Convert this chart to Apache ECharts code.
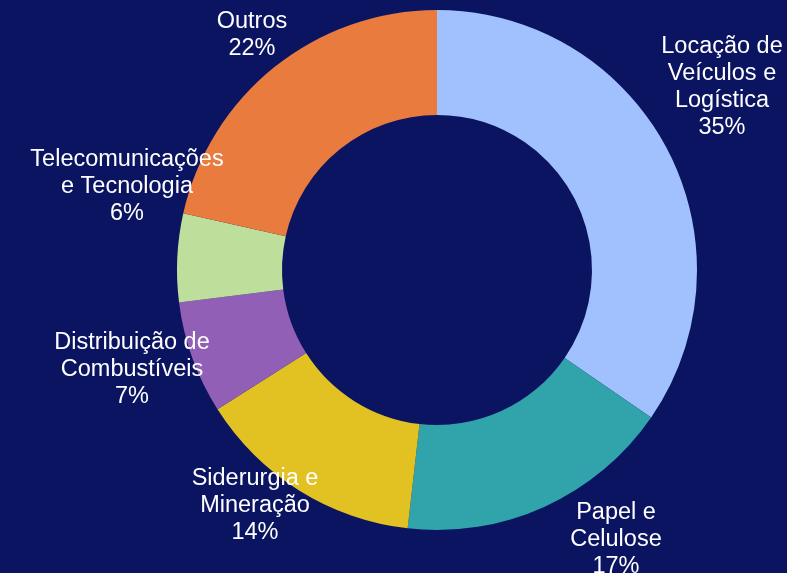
<!DOCTYPE html>
<html>
<head>
<meta charset="utf-8">
<script src="https://cdn.jsdelivr.net/npm/echarts@6/dist/echarts.min.js"></script>
<style>
  html, body { margin: 0; padding: 0; background: #0b1461; }
  #chart { width: 787px; height: 573px; }
</style>
</head>
<body>
<div id="chart"></div>
<script>
const categories = [
  'Locação de\nVeículos e\nLogística',
  'Papel e\nCelulose',
  'Siderurgia e\nMineração',
  'Distribuição de\nCombustíveis',
  'Telecomunicações\ne Tecnologia',
  'Outros'
]
const values = [34.6, 17.2, 14.2, 7.0, 5.5, 21.5]
const colors = ['#a0c1fe', '#31a3aa', '#e2c123', '#9160b6', '#bddf9b', '#e97b3f']

// label centres (x, y of the label block)
const labelPos = [
  [722, 87], [616, 540], [255, 506], [132, 370], [127, 187], [252, 35]
]

const chart = echarts.init(document.getElementById('chart'))
chart.setOption({
  backgroundColor: '#0b1461',
  animation: false,
  series: [{
    type: 'pie',
    center: [437, 270],
    radius: [155, 260],
    startAngle: 90,
    clockwise: true,
    data: categories.map((name, i) => ({
      name,
      value: values[i],
      itemStyle: { color: colors[i] }
    })),
    itemStyle: { borderWidth: 0 },
    label: {
      show: true,
      position: 'outside',
      formatter: p => p.name + '\n' + Math.round(p.value) + '%',
      color: '#ffffff',
      fontFamily: 'Liberation Sans, Arial, sans-serif',
      fontSize: 23.5,
      lineHeight: 27,
      align: 'center',
      overflow: 'none',
      width: 300
    },
    labelLine: { show: false },
    labelLayout: params => ({
      x: labelPos[params.dataIndex][0],
      y: labelPos[params.dataIndex][1],
      align: 'center',
      verticalAlign: 'middle'
    })
  }]
})
</script>
</body>
</html>
